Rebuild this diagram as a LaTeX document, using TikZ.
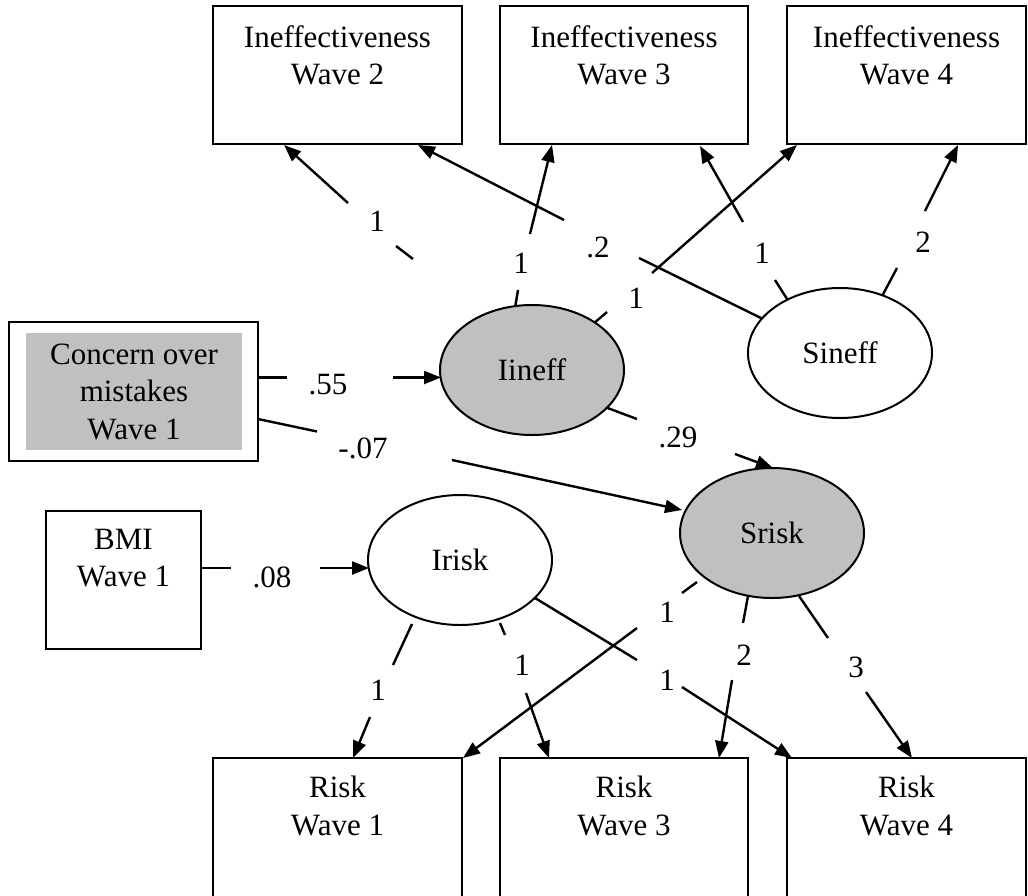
\documentclass[tikz,border=0pt]{standalone}
\usepackage{fontspec}
\setmainfont{Liberation Serif}
\usetikzlibrary{arrows.meta,shapes.geometric,backgrounds}
\definecolor{semgray}{HTML}{C0C0C0}
\begin{document}
\begin{tikzpicture}[x=1pt,y=-1pt,
  every node/.style={font=\fontsize{31pt}{37.5pt}\selectfont},
  box/.style={draw, line width=2pt, inner sep=0pt},
  toplbl/.style={anchor=north, align=center, inner sep=0pt, yshift=-20pt},
  lat/.style={ellipse, draw, line width=2pt, minimum width=184pt, minimum height=130pt, inner sep=0pt},
  conn/.style={line width=2.4pt},
  arr/.style={line width=2.4pt, -{Triangle[length=17pt,width=13pt]}},
  coef/.style={inner sep=0pt}
]
\useasboundingbox (0,0) rectangle (1028,895);

% indicator boxes
\node[box, minimum width=249pt, minimum height=138pt, label={[toplbl]north:{Ineffectiveness\\Wave 2}}] (IW2) at (337.5,75) {};
\node[box, minimum width=248pt, minimum height=138pt, label={[toplbl]north:{Ineffectiveness\\Wave 3}}] (IW3) at (624,75) {};
\node[box, minimum width=239pt, minimum height=138pt, label={[toplbl]north:{Ineffectiveness\\Wave 4}}] (IW4) at (906.5,75) {};
\node[box, minimum width=249pt, minimum height=152pt, label={[toplbl,yshift=1pt]north:{Risk\\Wave 1}}] (RW1) at (337.5,834) {};
\node[box, minimum width=248pt, minimum height=152pt, label={[toplbl,yshift=1pt]north:{Risk\\Wave 3}}] (RW3) at (624,834) {};
\node[box, minimum width=239pt, minimum height=152pt, label={[toplbl,yshift=1pt]north:{Risk\\Wave 4}}] (RW4) at (906.5,834) {};

% predictors
\node[box, minimum width=249pt, minimum height=139pt] (CMo) at (133.5,391.5) {};
\node[fill=semgray, minimum width=216pt, minimum height=117pt, inner sep=0pt, align=center] (CM) at (134,391.5) {Concern over\\mistakes\\Wave 1};
\node[box, minimum width=155pt, minimum height=138pt, label={[toplbl,yshift=1.5pt]north:{BMI\\Wave 1}}] (BMI) at (123.5,580) {};

% latent variables
\node[lat, fill=semgray] (Iineff) at (532,370) {Iineff};
\node[lat, fill=white] (Sineff) at (840,353) {Sineff};
\node[lat, fill=white] (Irisk) at (460,560) {Irisk};
\node[lat, fill=semgray] (Srisk) at (772,533) {Srisk};

% outgoing connector pieces (behind the ellipses)
\begin{scope}[on background layer]
  % Iineff -> Ineffectiveness Wave 2
  \draw[conn] (413,259) -- (396,246);
  \draw[arr] (348,203) -- (284,145);
  % Sineff -> Ineffectiveness Wave 2
  \draw[conn] (765,320) -- (639,258);
  \draw[arr] (564,220) -- (418,145);
  % Iineff -> Ineffectiveness Wave 3
  \draw[conn] (515,308) -- (518,290);
  \draw[arr] (530,234) -- (552,145);
  % Sineff -> Ineffectiveness Wave 3
  \draw[conn] (789,302) -- (775,280);
  \draw[arr] (743,222) -- (700,146);
  % Iineff -> Ineffectiveness Wave 4
  \draw[conn] (593,324) -- (607,312);
  \draw[arr] (652,273) -- (797,145);
  % Sineff -> Ineffectiveness Wave 4
  \draw[conn] (880,300) -- (897,268);
  \draw[arr] (925,211) -- (958,145);
  % Iineff -> Srisk (first piece)
  \draw[conn] (605,407) -- (637,419);
  % Irisk -> Risk Wave 1
  \draw[conn] (412,624) -- (393,665);
  \draw[arr] (370,717) -- (353,758);
  % Irisk -> Risk Wave 3
  \draw[conn] (500,623) -- (505,635);
  \draw[arr] (526,693) -- (549,758);
  % Irisk -> Risk Wave 4
  \draw[conn] (535,598) -- (637,660);
  \draw[arr] (682,687) -- (792,758);
  % Srisk -> Risk Wave 1
  \draw[conn] (697,582) -- (682,593);
  \draw[arr] (637,628) -- (463,758);
  % Srisk -> Risk Wave 3
  \draw[conn] (748,596) -- (743,623);
  \draw[arr] (732,680) -- (719,758);
  % Srisk -> Risk Wave 4
  \draw[conn] (799,596) -- (828,638);
  \draw[arr] (866,692) -- (912,758);
  % predictor pieces
  \draw[conn] (258,377.5) -- (287,377.5);
  \draw[conn] (258,419) -- (317,431.5);
  \draw[conn] (201,568) -- (231,568);
\end{scope}

% arrows into latent variables
\draw[arr] (393,377.5) -- (441,377.5);
\draw[arr] (452,460) -- (682,510);
\draw[arr] (735,454) -- (773,468);
\draw[arr] (320,568) -- (369,568);

% coefficients
\node[coef] (cA) at (377,221) {1};
\node[coef] (cB) at (598,247) {.2};
\node[coef] (cC) at (521,263) {1};
\node[coef] (cD) at (762,253) {1};
\node[coef] (cE) at (636,298) {1};
\node[coef] (cF) at (923,242) {2};
\node[coef] (cG) at (328,385) {.55};
\node[coef] (cH) at (363,448) {-.07};
\node[coef] (cI) at (678,437) {.29};
\node[coef] (cJ) at (272,577) {.08};
\node[coef] (cK) at (378,690) {1};
\node[coef] (cL) at (522,665) {1};
\node[coef] (cM) at (667,680) {1};
\node[coef] (cN) at (667,612) {1};
\node[coef] (cO) at (744,655) {2};
\node[coef] (cP) at (856,667) {3};
\end{tikzpicture}
\end{document}
